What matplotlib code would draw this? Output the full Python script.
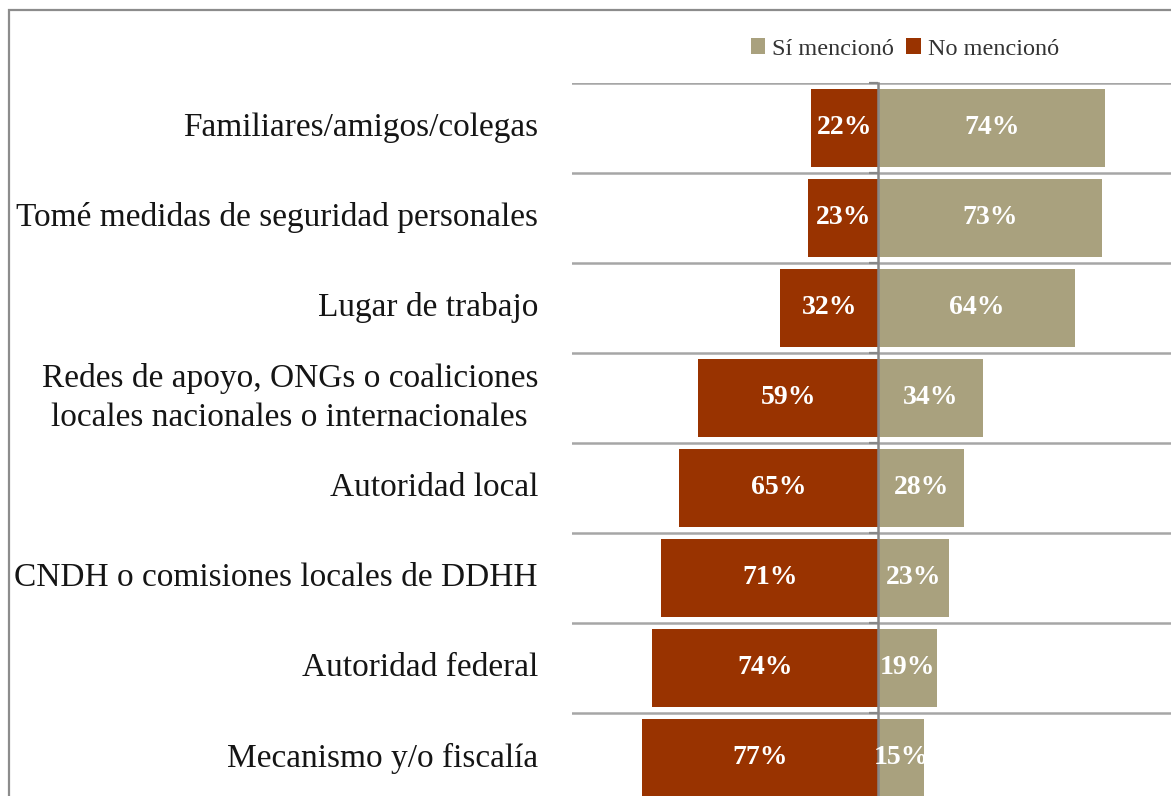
import matplotlib
matplotlib.use("Agg")
import matplotlib.pyplot as plt
import matplotlib.transforms as mtransforms
from matplotlib.patches import Patch, Rectangle

categories = [
    "Familiares/amigos/colegas",
    "Tomé medidas de seguridad personales",
    "Lugar de trabajo",
    "Redes de apoyo, ONGs o coaliciones\nlocales nacionales o internacionales",
    "Autoridad local",
    "CNDH o comisiones locales de DDHH",
    "Autoridad federal",
    "Mecanismo y/o fiscalía",
]
si_menciono = [74, 73, 64, 34, 28, 23, 19, 15]
no_menciono = [22, 23, 32, 59, 65, 71, 74, 77]
legend_labels = ["Sí mencionó", "No mencionó"]

C_SI = "#A9A17E"
C_NO = "#993300"
FONT = ["Liberation Serif", "DejaVu Serif"]
plt.rcParams["font.family"] = FONT

W, H = 1171, 796
fig = plt.figure(figsize=(W / 100, H / 100), dpi=100)

# figure frame (cropped on right/bottom)
fig.patches.append(Rectangle((8.5 / W, -0.1), 1.2, 1 - 10.5 / H + 0.1,
                             transform=fig.transFigure, fill=False,
                             edgecolor="#8C8C8C", linewidth=1.6))

ax_left, ax_right = 572, 1185
ax_top, ax_bottom = 83, 803
ax = fig.add_axes([ax_left / W, (H - ax_bottom) / H,
                   (ax_right - ax_left) / W, (ax_bottom - ax_top) / H])
ax.set_xlim(-100, 100)
n = len(categories)
ax.set_ylim(0, n)
ypos = [n - i - 0.5 for i in range(n)]

bh = 0.87
ax.barh(ypos, si_menciono, height=bh, color=C_SI, zorder=2)
ax.barh(ypos, [-v for v in no_menciono], height=bh, color=C_NO, zorder=2)

for y, s, no in zip(ypos, si_menciono, no_menciono):
    ax.text(s / 2, y, f"{s}%", ha="center", va="center", color="white",
            fontsize=20, fontweight="bold", zorder=4)
    ax.text(-no / 2, y, f"{no}%", ha="center", va="center", color="white",
            fontsize=20, fontweight="bold", zorder=4)

# axes styling
for sp in ["top", "right", "bottom"]:
    ax.spines[sp].set_visible(False)
ax.spines["left"].set_position(("data", 0))
ax.spines["left"].set_color("#878787")
ax.spines["left"].set_linewidth(1.8)
ax.spines["left"].set_zorder(3)
ax.set_yticks(range(0, n + 1))
ax.set_yticklabels([])
ax.tick_params(axis="y", direction="out", length=6.5, width=1.6, color="#878787")
ax.set_xticks([])
ax.grid(axis="y", color="#A6A6A6", linewidth=1.8, zorder=1)
ax.set_axisbelow(True)

trans = mtransforms.blended_transform_factory(fig.transFigure, ax.transData)
for y, lab in zip(ypos, categories):
    ax.text(538 / W, y, lab, transform=trans, ha="right", va="center",
            multialignment="center", fontsize=24, color="#151515",
            linespacing=1.36, clip_on=False)

handles = [Patch(facecolor=C_SI), Patch(facecolor=C_NO)]
fig.legend(handles, legend_labels, loc="center", bbox_to_anchor=(905 / W, 1 - 49 / H),
           ncol=2, frameon=False, fontsize=17.5, handlelength=0.6, handleheight=0.6,
           handletextpad=0.3, columnspacing=0.5, labelcolor="#333333")

fig.savefig("out.png", dpi=100)
